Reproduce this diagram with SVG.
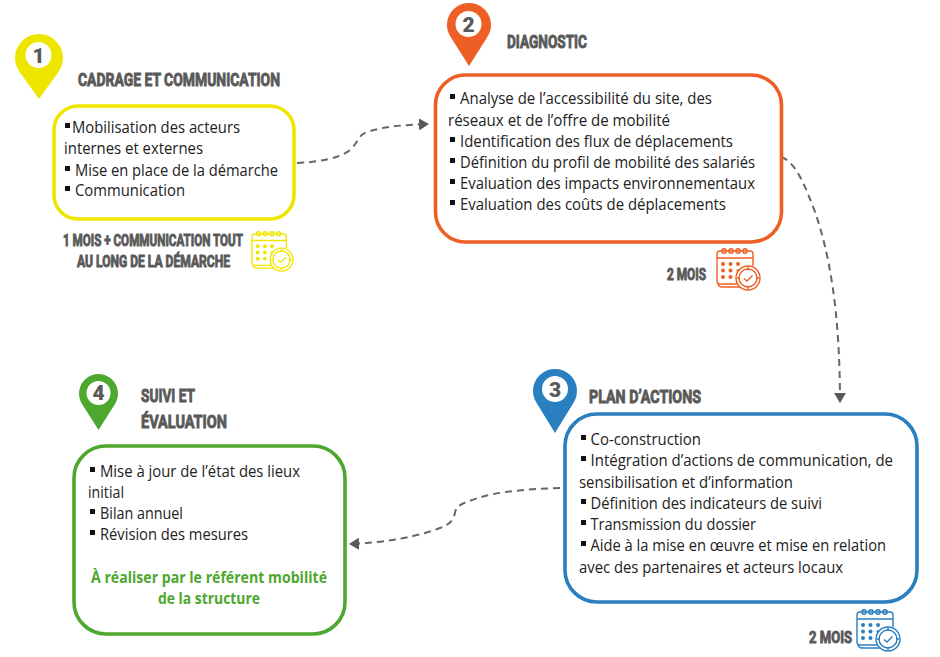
<svg xmlns="http://www.w3.org/2000/svg" xmlns:xlink="http://www.w3.org/1999/xlink" width="940" height="657" viewBox="0 0 940 657">
<style>
.box{fill:#fff;stroke-width:3.6}
.b{font-family:"Open Sans","Noto Sans","Liberation Sans",sans-serif;font-size:15.4px;fill:#222;transform:translateY(.7px)}
.g{font-family:"Open Sans","Noto Sans","Liberation Sans",sans-serif;font-size:15.4px;font-weight:700;fill:#4ea72e;transform:translateY(.7px)}
.t{font-family:"Liberation Sans Narrow",Roboto,"Liberation Sans",sans-serif;font-weight:700;fill:#595959;stroke:#595959;stroke-width:.9;transform:translateY(.6px)}
.h{font-size:19px}
.s{font-size:16px}
.n{font-family:"Roboto","Liberation Sans",sans-serif;font-weight:900;font-size:21px;fill:#595959;text-anchor:middle}
.c{fill:none;stroke:#666;stroke-width:2;stroke-dasharray:7 5}
.sq{fill:#111}
.i{fill:none;stroke:currentColor;stroke-width:1.4}
.d{fill:currentColor}
</style>
<defs>
<marker id="ah" markerUnits="userSpaceOnUse" markerWidth="11" markerHeight="12" refX="10" refY="6" orient="auto"><path d="M0 0L10 6L0 12z" fill="#595959"/></marker>
<symbol id="cal" viewBox="0 0 44 44" overflow="visible">
<path class="i" d="M22 37H4Q1 37 1 34V7Q1 4 4 4H34Q37 4 37 7V19"/>
<path class="i" d="M2 37Q3 40 6 40H24"/>
<path class="i" d="M1 11H37"/>
<g class="i"><circle cx="8" cy="4" r="2.200"/><circle cx="15" cy="4" r="2.200"/><circle cx="22" cy="4" r="2.200"/><circle cx="29" cy="4" r="2.200"/></g>
<g class="d"><circle cx="7" cy="17" r="2"/><circle cx="14.500" cy="17" r="2"/><circle cx="22" cy="17" r="2"/><circle cx="7" cy="23.500" r="2"/><circle cx="14.500" cy="23.500" r="2"/><circle cx="22" cy="23.500" r="1.500"/><circle cx="7" cy="30" r="2"/><circle cx="14.500" cy="30" r="2"/></g>
<circle cx="32" cy="31" r="12" fill="#fff" stroke="currentColor" stroke-width="1.400"/>
<circle class="i" cx="32" cy="31" r="9"/>
<path class="i" d="M28 31.500L31 34L36.500 28.500M32 20V23M32 39V42M21 31H24M40 31H43"/>
</symbol>
</defs>
<rect width="940" height="657" fill="#fff"/>
<g id="connectors">
<path class="c" marker-end="url(#ah)" d="M297 163C320 162 340 158 350 150C358 143 358 135 367 132C385 126 405 125 429 124"/>
<path class="c" marker-end="url(#ah)" d="M781 157C795 161 805 185 815 212C829 252 840 310 840 403"/>
<path class="c" marker-end="url(#ah)" d="M560 488C530 489 500 491 478 498C463 503 456 505 455 513C453 521 450 524 440 528C420 536 385 543 349 544"/>
</g>
<g id="node1">
<path d="M39 99L19.600 72.100A24 24 0 1 1 58.400 72.100z" fill="#efe600"/>
<circle cx="38.500" cy="55" r="13" fill="#fff"/>
<text class="n" x="38.500" y="62.500">1</text>
<text class="t h" x="78" y="85" textLength="202" lengthAdjust="spacingAndGlyphs">CADRAGE ET COMMUNICATION</text>
<rect class="box" x="54" y="106" width="240" height="113" rx="24" stroke="#efe600"/>
<rect class="sq" x="65" y="123" width="5" height="5"/>
<text class="b" x="72" y="132" textLength="168" lengthAdjust="spacingAndGlyphs">Mobilisation des acteurs</text>
<text class="b" x="64" y="153" textLength="139" lengthAdjust="spacingAndGlyphs">internes et externes</text>
<rect class="sq" x="65" y="166" width="5" height="5"/>
<text class="b" x="75" y="175" textLength="203" lengthAdjust="spacingAndGlyphs">Mise en place de la démarche</text>
<rect class="sq" x="65" y="186" width="5" height="5"/>
<text class="b" x="75" y="195" textLength="110" lengthAdjust="spacingAndGlyphs">Communication</text>
<text class="t s" x="63" y="245" textLength="180" lengthAdjust="spacingAndGlyphs">1 MOIS + COMMUNICATION TOUT</text>
<text class="t s" x="77" y="266" textLength="153" lengthAdjust="spacingAndGlyphs">AU LONG DE LA DÉMARCHE</text>
<use href="#cal" x="251" y="230" width="42" height="42" color="#efe600"/>
</g>
<g id="node2">
<path d="M469 66L450.500 36.800A22 22 0 1 1 487.500 36.800z" fill="#ee5f25"/>
<circle cx="468.500" cy="24" r="13" fill="#fff"/>
<text class="n" x="468.500" y="31.500">2</text>
<text class="t h" x="507" y="47" textLength="80" lengthAdjust="spacingAndGlyphs">DIAGNOSTIC</text>
<rect class="box" x="435.500" y="75" width="346" height="167" rx="30" stroke="#ee5f25"/>
<rect class="sq" x="450" y="94" width="5" height="5"/>
<text class="b" x="460" y="103" textLength="252" lengthAdjust="spacingAndGlyphs">Analyse de l’accessibilité du site, des</text>
<text class="b" x="448" y="125" textLength="222" lengthAdjust="spacingAndGlyphs">réseaux et de l’offre de mobilité</text>
<rect class="sq" x="450" y="137" width="5" height="5"/>
<text class="b" x="460" y="146" textLength="273" lengthAdjust="spacingAndGlyphs">Identification des flux de déplacements</text>
<rect class="sq" x="450" y="158" width="5" height="5"/>
<text class="b" x="460" y="167" textLength="295" lengthAdjust="spacingAndGlyphs">Définition du profil de mobilité des salariés</text>
<rect class="sq" x="450" y="179" width="5" height="5"/>
<text class="b" x="460" y="188" textLength="295" lengthAdjust="spacingAndGlyphs">Evaluation des impacts environnementaux</text>
<rect class="sq" x="450" y="200" width="5" height="5"/>
<text class="b" x="460" y="209" textLength="266" lengthAdjust="spacingAndGlyphs">Evaluation des coûts de déplacements</text>
<text class="t s" x="667" y="279" textLength="39" lengthAdjust="spacingAndGlyphs">2 MOIS</text>
<use href="#cal" x="716" y="247" width="44" height="44" color="#ee5f25"/>
</g>
<g id="node3">
<path d="M555 433L536.300 402.500A22 22 0 1 1 573.700 402.500z" fill="#2a7fc1"/>
<circle cx="555" cy="389" r="13" fill="#fff"/>
<text class="n" x="555" y="396.500">3</text>
<text class="t h" x="589" y="402" textLength="112" lengthAdjust="spacingAndGlyphs">PLAN D’ACTIONS</text>
<rect class="box" x="565" y="414" width="352" height="188" rx="32" stroke="#2a7fc1"/>
<rect class="sq" x="581" y="435" width="5" height="5"/>
<text class="b" x="590.500" y="444" textLength="110.500" lengthAdjust="spacingAndGlyphs">Co-construction</text>
<rect class="sq" x="581" y="456" width="5" height="5"/>
<text class="b" x="590.500" y="465" textLength="302.500" lengthAdjust="spacingAndGlyphs">Intégration d’actions de communication, de</text>
<text class="b" x="579" y="487" textLength="214" lengthAdjust="spacingAndGlyphs">sensibilisation et d’information</text>
<rect class="sq" x="581" y="499" width="5" height="5"/>
<text class="b" x="590.500" y="508" textLength="231.500" lengthAdjust="spacingAndGlyphs">Définition des indicateurs de suivi</text>
<rect class="sq" x="581" y="520" width="5" height="5"/>
<text class="b" x="590.500" y="529" textLength="165.500" lengthAdjust="spacingAndGlyphs">Transmission du dossier</text>
<rect class="sq" x="581" y="541" width="5" height="5"/>
<text class="b" x="590.500" y="550" textLength="295.500" lengthAdjust="spacingAndGlyphs">Aide à la mise en œuvre et mise en relation</text>
<text class="b" x="579" y="572" textLength="264" lengthAdjust="spacingAndGlyphs">avec des partenaires et acteurs locaux</text>
<text class="t s" x="809" y="642" textLength="43" lengthAdjust="spacingAndGlyphs">2 MOIS</text>
<use href="#cal" x="856" y="608" width="44" height="44" color="#2a7fc1"/>
</g>
<g id="node4">
<path d="M98.500 430L82 403.900A19.500 19.500 0 1 1 115 403.900z" fill="#4ea72e"/>
<circle cx="98.500" cy="393" r="12" fill="#fff"/>
<text class="n" x="98.500" y="400">4</text>
<text class="t h" x="141" y="401" textLength="54" lengthAdjust="spacingAndGlyphs">SUIVI ET</text>
<text class="t h" x="141" y="427" textLength="86" lengthAdjust="spacingAndGlyphs">ÉVALUATION</text>
<rect class="box" x="74" y="446" width="271" height="188" rx="32" stroke="#4ea72e"/>
<rect class="sq" x="90" y="467" width="5" height="5"/>
<text class="b" x="100" y="476" textLength="200" lengthAdjust="spacingAndGlyphs">Mise à jour de l’état des lieux</text>
<text class="b" x="88" y="497" textLength="36" lengthAdjust="spacingAndGlyphs">initial</text>
<rect class="sq" x="90" y="509" width="5" height="5"/>
<text class="b" x="100" y="518" textLength="83" lengthAdjust="spacingAndGlyphs">Bilan annuel</text>
<rect class="sq" x="90" y="530" width="5" height="5"/>
<text class="b" x="100" y="539" textLength="148" lengthAdjust="spacingAndGlyphs">Révision des mesures</text>
<text class="g" x="91" y="582" textLength="236" lengthAdjust="spacingAndGlyphs">À réaliser par le référent mobilité</text>
<text class="g" x="158" y="603" textLength="102" lengthAdjust="spacingAndGlyphs">de la structure</text>
</g>
</svg>
